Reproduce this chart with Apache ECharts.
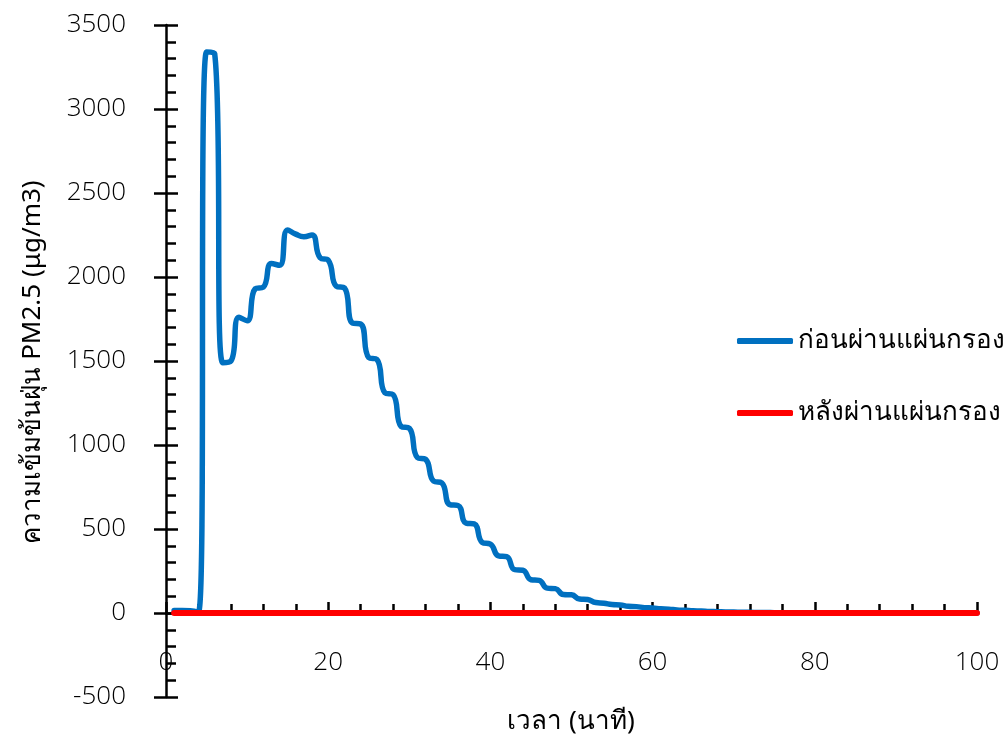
<!DOCTYPE html>
<html>
<head>
<meta charset="utf-8">
<script src="https://cdn.jsdelivr.net/npm/echarts@6/dist/echarts.min.js"></script>
<style>
  html, body { margin: 0; padding: 0; background: #fff; }
  #chart { width: 1008px; height: 747px; }
</style>
</head>
<body>
<div id="chart"></div>
<script>
// Time in minutes
const minutes = [
  1, 2, 3, 4, 5, 6, 7, 8, 9, 10,
  11, 12, 13, 14, 15, 16, 17, 18, 19, 20,
  21, 22, 23, 24, 25, 26, 27, 28, 29, 30,
  31, 32, 33, 34, 35, 36, 37, 38, 39, 40,
  41, 42, 43, 44, 45, 46, 47, 48, 49, 50,
  51, 52, 53, 54, 55, 56, 57, 58, 59, 60,
  61, 62, 63, 64, 65, 66, 67, 68, 69, 70,
  71, 72, 73, 74, 75, 76, 77, 78, 79, 80,
  81, 82, 83, 84, 85, 86, 87, 88, 89, 90,
  91, 92, 93, 94, 95, 96, 97, 98, 99, 100
];

// PM2.5 (µg/m3) before the filter
const beforeFilter = [
  15, 15, 14, 5, 3340, 3330, 1490, 1500, 1760, 1740,
  1930, 1940, 2080, 2070, 2280, 2255, 2240, 2250, 2115, 2100,
  1945, 1935, 1725, 1720, 1520, 1510, 1310, 1300, 1110, 1100,
  925, 915, 785, 775, 645, 640, 535, 530, 420, 410,
  340, 335, 258, 255, 198, 194, 148, 145, 110, 108,
  83, 80, 62, 58, 50, 48, 40, 38, 32, 30,
  25, 23, 18, 16, 13, 12, 9, 8, 6, 6,
  4, 4, 3, 3, 2, 2, 1, 1, 1, 1,
  0, 0, 0, 0, 0, 0, 0, 0, 0, 0,
  0, 0, 0, 0, 0, 0, 0, 0, 0, 0
];

// PM2.5 (µg/m3) after the filter
const afterFilter = [
  0, 0, 0, 0, 0, 0, 0, 0, 0, 0,
  0, 0, 0, 0, 0, 0, 0, 0, 0, 0,
  0, 0, 0, 0, 0, 0, 0, 0, 0, 0,
  0, 0, 0, 0, 0, 0, 0, 0, 0, 0,
  0, 0, 0, 0, 0, 0, 0, 0, 0, 0,
  0, 0, 0, 0, 0, 0, 0, 0, 0, 0,
  0, 0, 0, 0, 0, 0, 0, 0, 0, 0,
  0, 0, 0, 0, 0, 0, 0, 0, 0, 0,
  0, 0, 0, 0, 0, 0, 0, 0, 0, 0,
  0, 0, 0, 0, 0, 0, 0, 0, 0, 0
];

const seriesNames = ['ก่อนผ่านแผ่นกรอง', 'หลังผ่านแผ่นกรอง'];
const xTitle = 'เวลา (นาที)';
const yTitle = 'ความเข้มข้นฝุ่น PM2.5 (μg/m3)';

// light face for numbers, regular face for Thai text
const NUM_FONT = '"Open Sans", "Noto Sans", sans-serif';
const NUM_WEIGHT = 300;
const TEXT_FONT = '"Noto Sans", sans-serif';
const INK = '#000';

const pairs = (ys) => minutes.map((m, i) => [m, ys[i]]);
const plain = (v) => String(v);

const yBase = { type: 'value', min: -500, max: 3500, interval: 500, splitLine: { show: false } };
const xBase = { type: 'value', min: 0, max: 100, interval: 20, splitLine: { show: false } };

const chart = echarts.init(document.getElementById('chart'), null, { renderer: 'canvas' });
chart.setOption({
  animation: false,
  backgroundColor: '#fff',
  grid: { left: 166, right: 31, top: 25, bottom: 50, containLabel: false, outerBoundsMode: 'none' },
  xAxis: [
    Object.assign({}, xBase, {
      axisLine: { show: true, onZero: true, lineStyle: { color: INK, width: 2.5 } },
      axisTick: { show: true, inside: true, length: 11, lineStyle: { color: INK, width: 2.5 } },
      minorTick: { show: true, splitNumber: 5, length: 9, lineStyle: { color: INK, width: 2.5 } },
      axisLabel: { show: true, margin: -47, color: INK, fontSize: 26, fontFamily: NUM_FONT, fontWeight: NUM_WEIGHT, formatter: plain }
    }),
    Object.assign({}, xBase, {
      axisLine: { show: false, onZero: true },
      axisTick: { show: true, inside: false, length: 11, lineStyle: { color: INK, width: 2.5 } },
      axisLabel: { show: false }
    })
  ],
  yAxis: [
    Object.assign({}, yBase, {
      axisLine: { show: true, lineStyle: { color: INK, width: 2.5 } },
      axisTick: { show: true, inside: true, length: 12, lineStyle: { color: INK, width: 2.5 } },
      minorTick: { show: true, splitNumber: 5, length: 10, lineStyle: { color: INK, width: 2.5 } },
      axisLabel: { show: true, margin: 40, color: INK, fontSize: 26, fontFamily: NUM_FONT, fontWeight: NUM_WEIGHT, padding: [0, 0, 8, 0], formatter: plain }
    }),
    Object.assign({}, yBase, {
      position: 'left',
      axisLine: { show: false },
      axisTick: { show: true, inside: false, length: 12, lineStyle: { color: INK, width: 2.5 } },
      axisLabel: { show: false }
    })
  ],
  legend: {
    orient: 'vertical',
    left: 737,
    top: 326,
    padding: 0,
    itemWidth: 56,
    itemHeight: 6,
    itemGap: 42,
    icon: 'roundRect',
    textStyle: { color: INK, fontSize: 26, lineHeight: 30, fontFamily: TEXT_FONT, fontWeight: 'normal' },
    data: seriesNames
  },
  graphic: [
    {
      type: 'text', x: 33, y: 362, rotation: Math.PI / 2,
      style: { text: yTitle, fill: INK, font: '26px ' + TEXT_FONT, textAlign: 'center', textVerticalAlign: 'middle' }
    },
    {
      type: 'text', x: 571, y: 722,
      style: { text: xTitle, fill: INK, font: '26px ' + TEXT_FONT, textAlign: 'center', textVerticalAlign: 'middle' }
    }
  ],
  series: [
    {
      name: seriesNames[0], type: 'line', data: pairs(beforeFilter),
      xAxisIndex: 0, yAxisIndex: 0,
      smooth: 0.5, showSymbol: false, symbol: 'none',
      itemStyle: { color: '#0070C0' },
      lineStyle: { color: '#0070C0', width: 5.5, cap: 'round', join: 'round' },
      z: 2
    },
    {
      name: seriesNames[1], type: 'line', data: pairs(afterFilter),
      xAxisIndex: 0, yAxisIndex: 0,
      smooth: 0.5, showSymbol: false, symbol: 'none',
      itemStyle: { color: '#FF0000' },
      lineStyle: { color: '#FF0000', width: 6, cap: 'round', join: 'round' },
      z: 3
    }
  ]
});
</script>
</body>
</html>
